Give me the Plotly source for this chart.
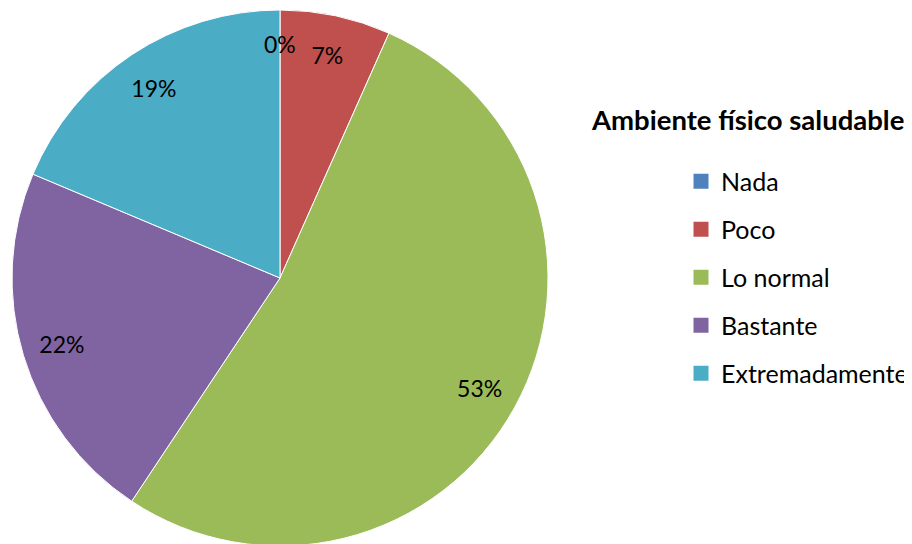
import math
import plotly.graph_objects as go

categories = ["Nada", "Poco", "Lo normal", "Bastante", "Extremadamente"]
counts = [0, 10, 79, 33, 28]
colors = ["#4F81BD", "#C0504D", "#9BBB59", "#8064A2", "#4BACC6"]
legend_title = "Ambiente físico saludable"

FONT = "Lato"
W, H = 912, 544
OFF = 8  # page body margin offset

# pie geometry in page pixels
cx_pg, cy_pg, R = 280, 278, 268
dom_x = [(cx_pg - OFF - R) / W, (cx_pg - OFF + R) / W]
dom_y = [1 - (cy_pg - OFF + R) / H, 1 - (cy_pg - OFF - R) / H]
LABEL_SIZE = 23

fig = go.Figure()
fig.add_trace(go.Pie(
    labels=categories, values=counts, sort=False, direction="clockwise", rotation=0,
    marker=dict(colors=colors, line=dict(color="white", width=1)),
    textinfo="none",
    domain=dict(x=dom_x, y=dom_y),
    showlegend=False, hoverinfo="label+percent",
))
# text layer: transparent ring so labels sit near the rim
fig.add_trace(go.Pie(
    labels=categories, values=counts, sort=False, direction="clockwise", rotation=0,
    hole=0.7,
    marker=dict(colors=["rgba(0,0,0,0)"] * len(categories), line=dict(width=0)),
    texttemplate=["" if v == 0 else "%{percent:.0%}" for v in counts],
    textposition="inside",
    insidetextorientation="horizontal",
    textfont=dict(family=FONT, size=LABEL_SIZE, color="black"),
    domain=dict(x=dom_x, y=dom_y),
    showlegend=False, hoverinfo="skip",
))

for i, (name, col) in enumerate(zip(categories, colors)):
    fig.add_trace(go.Scatter(
        x=[None], y=[None], mode="markers", name=name, legendgroup=f"g{i}",
        marker=dict(symbol="square", size=15, color=col), showlegend=True,
    ))

# label for zero-valued slices, placed on the rim at the slice's angle
total = sum(counts)
annotations = []
cum = 0
for name, v in zip(categories, counts):
    if v == 0:
        ang = 2 * math.pi * cum / total
        rr = 0.875 * R
        px = cx_pg - OFF + rr * math.sin(ang)
        py = cy_pg - OFF - rr * math.cos(ang)
        annotations.append(dict(text=f"{v / total:.0%}", x=px / W, y=1 - py / H,
                                xref="paper", yref="paper", xanchor="center", yanchor="middle",
                                showarrow=False,
                                font=dict(family=FONT, size=LABEL_SIZE, color="black")))
    cum += v

annotations.append(dict(text="<b>" + legend_title + "</b>", x=(906 - OFF) / W, xref="paper",
                        xanchor="right", y=1 - (119 - OFF) / H, yref="paper", yanchor="middle",
                        showarrow=False, font=dict(family=FONT, size=27.5, color="black")))

fig.update_layout(
    width=W, height=H,
    margin=dict(l=0, r=0, t=0, b=0),
    paper_bgcolor="white", plot_bgcolor="white",
    xaxis=dict(visible=False), yaxis=dict(visible=False),
    legend=dict(x=673 / W, xanchor="left", y=1 - 150.5 / H, yanchor="top",
                traceorder="grouped", tracegroupgap=12.5,
                font=dict(family=FONT, size=25, color="black"),
                bgcolor="rgba(0,0,0,0)"),
    uniformtext=dict(minsize=LABEL_SIZE, mode="show"),
    annotations=annotations,
    showlegend=True,
)

fig.write_html("out.html")
